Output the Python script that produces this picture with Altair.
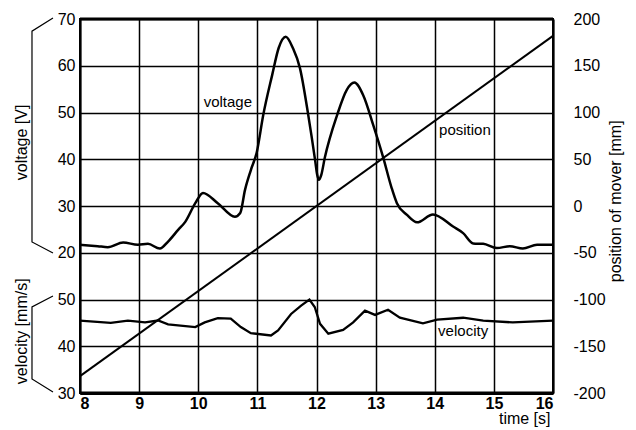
import altair as alt
import pandas as pd

# ---- data ----
volt_t = [8.0, 8.3, 8.47, 8.73, 8.98, 9.15, 9.35, 9.49, 9.66, 9.78, 9.95, 10.08, 10.33, 10.62, 10.71,
          10.79, 10.89, 10.99, 11.1, 11.25, 11.36, 11.48, 11.6, 11.72, 11.86, 11.98, 12.01, 12.04,
          12.08, 12.14, 12.35, 12.51, 12.64, 12.79, 12.96, 13.13, 13.27, 13.36, 13.53, 13.7, 13.97,
          14.31, 14.48, 14.65, 14.82, 15.05, 15.27, 15.49, 15.73, 16.0]
volt_v = [21.7, 21.4, 21.2, 22.2, 21.7, 21.9, 20.9, 22.4, 24.9, 26.6, 30.6, 32.8, 30.6, 27.7, 28.5,
          33.4, 37.7, 41.5, 49.5, 58.0, 63.8, 66.2, 63.8, 59.5, 49.5, 39.5, 36.8, 35.6,
          36.6, 40.3, 49.5, 54.8, 56.4, 53.7, 47.3, 40.3, 33.9, 30.6, 28.1, 26.5, 28.2,
          25.6, 24.2, 22.0, 21.9, 21.0, 21.4, 20.9, 21.7, 21.7]

vel_t = [8.0, 8.52, 8.81, 9.1, 9.32, 9.49, 9.95, 10.11, 10.33, 10.55, 10.72, 10.89, 11.23, 11.35,
         11.57, 11.74, 11.88, 11.97, 12.06, 12.2, 12.45, 12.62, 12.82, 12.99, 13.21, 13.41, 13.8,
         14.04, 14.48, 14.82, 15.32, 16.0]
vel_v = [45.5, 45.0, 45.5, 45.1, 45.5, 44.7, 44.1, 45.1, 46.0, 45.9, 44.1, 42.8, 42.3, 43.4,
         46.9, 48.7, 50.0, 48.4, 44.8, 42.7, 43.5, 45.1, 47.6, 46.7, 47.8, 46.1, 44.9,
         45.7, 46.1, 45.5, 45.1, 45.5]

pos_t = [8.0, 16.0]
pos_mm = [-182, 182]

x_ticks = [8, 9, 10, 11, 12, 13, 14, 15, 16]
mm_ticks = [-200, -150, -100, -50, 0, 50, 100, 150, 200]
border_mm = [200, -200]

# in-plot labels
lab_text = ["voltage", "position", "velocity"]
lab_t = [10.50, 14.51, 14.48]
lab_mm = [111, 81, -134]

# axis titles (rotated)
ttl_text = ["voltage [V]", "velocity [mm/s]", "position of mover [mm]"]
ttl_t = [7.02, 7.02, 17.07]
ttl_mm = [68, -134, 5]

# bracket decorations of the two left scales
br_group = ["v", "v", "v", "v", "s", "s", "s", "s"]
br_order = [0, 1, 2, 3, 0, 1, 2, 3]
br_t = [7.543, 7.188, 7.188, 7.543, 7.543, 7.188, 7.188, 7.543]
br_mm = [201, 187, -38.5, -50.3, -96.3, -108, -185, -199]

FONT = "Liberation Sans"

volt_df = pd.DataFrame({"t": volt_t, "V": volt_v})
vel_df = pd.DataFrame({"t": vel_t, "v": vel_v})
pos_df = pd.DataFrame({"t": pos_t, "mm": pos_mm})
border_df = pd.DataFrame({"mm": border_mm})
lab_df = pd.DataFrame({"text": lab_text, "t": lab_t, "mm": lab_mm})
ttl_df = pd.DataFrame({"text": ttl_text, "t": ttl_t, "mm": ttl_mm})
br_df = pd.DataFrame({"g": br_group, "o": br_order, "t": br_t, "mm": br_mm})

xs = alt.Scale(domain=[8, 16], nice=False, zero=False)
ys = alt.Scale(domain=[-200, 200], nice=False, zero=False)

x_axis = alt.Axis(values=x_ticks, format="d", grid=True, gridColor="black", gridWidth=1.5,
                  gridOpacity=1, ticks=False, labelPadding=2, labelFont=FONT, labelFontSize=16,
                  labelFontWeight="bold", labelColor="black", domainColor="black", domainWidth=3,
                  title="time [s]", titleFont=FONT, titleFontSize=16, titleFontWeight="normal",
                  titleColor="black", titleAnchor="end", titleAlign="right", titleBaseline="top",
                  titlePadding=0, titleX=470, titleY=17)
X = alt.X("t:Q", scale=xs, axis=x_axis)

left_axis = alt.Axis(orient="left", values=mm_ticks, grid=True, gridColor="black", gridWidth=1.5,
                     gridOpacity=1, ticks=False, labelPadding=5, labelFont=FONT, labelFontSize=16,
                     labelColor="black", domainColor="black", domainWidth=2, title=None,
                     labelExpr="datum.value >= -50 ? format((datum.value + 50) / 5 + 20, 'd') : "
                               "format((datum.value + 200) / 5 + 30, 'd')")
right_axis = alt.Axis(orient="right", values=mm_ticks, grid=False, ticks=False, labelPadding=20,
                      labelFont=FONT, labelFontSize=16, labelColor="black", labelAlign="left",
                      domainColor="black", domainWidth=2, title=None,
                      labelExpr="datum.value < 0 ? '-' + abs(datum.value) : '' + datum.value")

voltage = alt.Chart(volt_df).transform_calculate(
    mm="(datum.V - 20) * 5 - 50"
).mark_line(color="black", strokeWidth=2.5, interpolate="monotone").encode(
    x=X, y=alt.Y("mm:Q", scale=ys, axis=left_axis)
)

position = alt.Chart(pos_df).mark_line(color="black", strokeWidth=2).encode(
    x=X, y=alt.Y("mm:Q", scale=ys, axis=right_axis)
)

velocity = alt.Chart(vel_df).transform_calculate(
    mm="(datum.v - 30) * 5 - 200"
).mark_line(color="black", strokeWidth=2.3).encode(
    x=X, y=alt.Y("mm:Q", scale=ys, axis=None)
)

borders = alt.Chart(border_df).mark_rule(color="black", strokeWidth=3).encode(
    y=alt.Y("mm:Q", scale=ys, axis=None)
)

labels = alt.Chart(lab_df).mark_text(font=FONT, fontSize=15, color="black").encode(
    x=X, y=alt.Y("mm:Q", scale=ys, axis=None), text="text:N"
)

titles = alt.Chart(ttl_df).mark_text(font=FONT, fontSize=16, color="black", angle=270,
                                     baseline="middle").encode(
    x=X, y=alt.Y("mm:Q", scale=ys, axis=None), text="text:N"
)

brackets = alt.Chart(br_df).mark_line(color="black", strokeWidth=1.2, clip=False).encode(
    x=X, y=alt.Y("mm:Q", scale=ys, axis=None), detail="g:N", order="o:Q"
)

chart = alt.layer(
    voltage, position, velocity, borders, labels, titles, brackets
).resolve_scale(y="independent").properties(
    width=473, height=374,
    autosize=alt.AutoSizeParams(type="none"),
    padding={"left": 72, "top": 11, "right": 75, "bottom": 34},
    background="white"
).configure_view(stroke="black", strokeWidth=2)

chart.save("out.html", embed_options={"renderer": "svg", "actions": False})
